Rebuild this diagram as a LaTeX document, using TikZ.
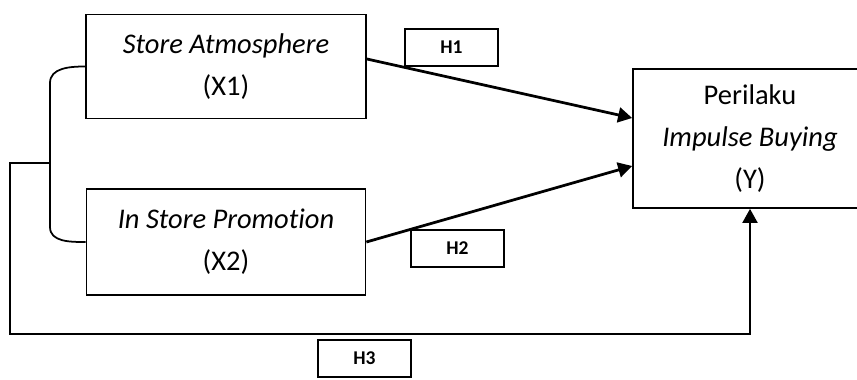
\documentclass[tikz,border=0pt]{standalone}
\usepackage{fontspec}
\setmainfont{Carlito}[Ligatures=NoCommon]
\usetikzlibrary{arrows.meta}
\tikzset{
  varbox/.style={draw, line width=0.7pt, align=center, font=\fontsize{11.4}{16.8}\selectfont},
  hbox/.style={draw, line width=1.1pt, minimum width=37.2pt, minimum height=14.8pt, inner sep=0pt, font=\fontsize{7.8}{9}\selectfont\bfseries}
}
\begin{document}
\begin{tikzpicture}[x=0.4pt, y=0.4pt, >={Triangle[length=5.6pt,width=6pt]}]
\useasboundingbox (0,0) rectangle (857,379);
\node[varbox, minimum width=112pt, minimum height=41.6pt](x1) at (226,312.5){\textit{Store Atmosphere}\\(X1)};
\node[varbox, minimum width=111.6pt, minimum height=42.4pt](x2) at (226,137){\textit{In Store Promotion}\\(X2)};
\node[varbox, minimum width=93.6pt, minimum height=55.6pt](y) at (750,240.5){Perilaku\\\textit{Impulse Buying}\\(Y)};
\node[hbox](h1) at (451.5,331.5){H1};
\node[hbox](h2) at (457.5,130.5){H2};
\node[hbox](h3) at (364.5,20.5){H3};
\coordinate (j) at (50,216);
\coordinate (c) at (10,45);
\draw[line width=0.7pt] (x1.west) to[out=180,in=90] (50,296) -- (50,152) to[out=-90,in=180] (x2.west);
\draw[line width=0.8pt,->] (j) -- (j -| c) -- (c) -| (y.south);
\draw[line width=1.1pt,->] ([yshift=3pt]x1.east) -- ([yshift=8.2pt]y.west);
\draw[line width=1.1pt,->] (x2.east) -- ([yshift=-11pt]y.west);
\end{tikzpicture}
\end{document}
